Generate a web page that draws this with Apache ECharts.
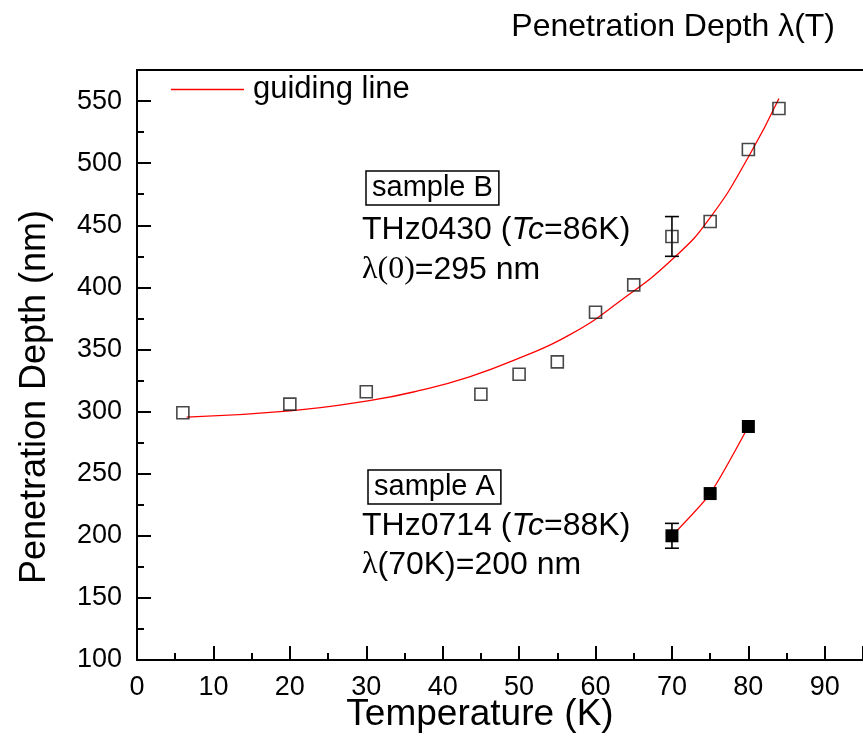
<!DOCTYPE html>
<html>
<head>
<meta charset="utf-8">
<script src="https://cdn.jsdelivr.net/npm/echarts@6/dist/echarts.min.js"></script>
<style>
  html, body { margin: 0; padding: 0; background: #fff; }
  #chart { width: 863px; height: 751px; }
</style>
</head>
<body>
<div id="chart"></div>
<script>
// Sample B (THz0430) measured penetration depth, open squares
const tempB = [6, 20, 30, 45, 50, 55, 60, 65, 70, 75, 80, 84];
const depthB = [299, 306, 316, 314, 330, 340, 380, 402, 441, 453, 511, 544];
// Sample A (THz0714) measured penetration depth, filled squares
const tempA = [70, 75, 80];
const depthA = [200, 234, 288];
// Error bars: [temperature, value, half-width]
const errB = [[70, 441, 16]];
const errA = [[70, 200, 10]];
// Guiding line through sample B
const guideT = [6.5, 20, 30.4, 37, 43.5, 50, 56.6, 63, 70.3, 75.1, 80.1, 84];
const guideB = [295.5, 300.5, 308.8, 317, 328, 343, 361.7, 388, 424, 457, 506, 552];
// Axis ranges and ticks
const xRange = [0, 95];
const xStep = 10;
const yRange = [100, 575];
const yStep = 50;

const FONT = '"Liberation Sans", Arial, Helvetica, sans-serif';
const SERIF = '"Liberation Serif", "Times New Roman", serif';

const chart = echarts.init(document.getElementById('chart'), null, { renderer: 'canvas' });

function pairs(xs, ys) { return xs.map((x, i) => [x, ys[i]]); }

function errorBars(name, data) {
  return {
    type: 'custom',
    name: name,
    data: data,
    z: 3,
    renderItem: function (params, api) {
      const x = api.value(0), v = api.value(1), e = api.value(2);
      const hi = api.coord([x, v + e]);
      const lo = api.coord([x, v - e]);
      const cap = 7;
      const st = { stroke: '#000', lineWidth: 1.6 };
      return {
        type: 'group',
        children: [
          { type: 'line', shape: { x1: hi[0], y1: hi[1], x2: lo[0], y2: lo[1] }, style: st },
          { type: 'line', shape: { x1: hi[0] - cap, y1: hi[1], x2: hi[0] + cap, y2: hi[1] }, style: st },
          { type: 'line', shape: { x1: lo[0] - cap, y1: lo[1], x2: lo[0] + cap, y2: lo[1] }, style: st }
        ]
      };
    }
  };
}

const annFont = 32;
const boxFont = 29;

chart.setOption({
  animation: false,
  backgroundColor: '#fff',
  grid: { left: 137, right: 0, top: 70, bottom: 91, containLabel: false },
  legend: {
    data: [{ name: 'guiding line', icon: 'rect' }],
    left: 166,
    top: 69,
    itemWidth: 73,
    itemHeight: 1.3,
    textStyle: { fontFamily: FONT, fontSize: 31, color: '#000', padding: [0, 0, 0, 4] }
  },
  xAxis: [{
    type: 'value',
    min: xRange[0],
    max: xRange[1],
    interval: xStep,
    axisLine: { lineStyle: { color: '#000', width: 2 } },
    axisTick: { inside: true, length: 14, lineStyle: { color: '#000', width: 2 } },
    minorTick: { show: true, splitNumber: 2, length: 7, lineStyle: { color: '#000', width: 2 } },
    splitLine: { show: false },
    axisLabel: { showMaxLabel: false, margin: 14, fontFamily: FONT, fontSize: 27, color: '#000' }
  }, {
    type: 'value',
    position: 'top',
    min: xRange[0],
    max: xRange[1],
    axisLine: { show: true, lineStyle: { color: '#000', width: 2 } },
    axisTick: { show: false },
    axisLabel: { show: false },
    splitLine: { show: false }
  }],
  yAxis: {
    type: 'value',
    min: yRange[0],
    max: yRange[1],
    interval: yStep,
    axisLine: { show: true, lineStyle: { color: '#000', width: 2 } },
    axisTick: { show: true, inside: true, length: 14, lineStyle: { color: '#000', width: 2 } },
    minorTick: { show: true, splitNumber: 2, length: 7, lineStyle: { color: '#000', width: 2 } },
    splitLine: { show: false },
    axisLabel: { showMaxLabel: false, margin: 15, fontFamily: FONT, fontSize: 27, color: '#000' }
  },
  series: [
    {
      name: 'guiding line',
      type: 'line',
      data: pairs(guideT, guideB),
      smooth: 0.5,
      symbol: 'none',
      lineStyle: { color: '#ff0000', width: 1.3 },
      itemStyle: { color: '#ff0000' },
      z: 2
    },
    {
      name: 'guide A',
      type: 'line',
      data: pairs(tempA, depthA),
      smooth: 0.2,
      symbol: 'none',
      lineStyle: { color: '#ff0000', width: 1.3 },
      z: 2
    },
    {
      name: 'sample B',
      type: 'scatter',
      data: pairs(tempB, depthB),
      symbol: 'rect',
      symbolSize: 12,
      itemStyle: { color: 'rgba(0,0,0,0)', borderColor: '#1a1a1a', borderWidth: 1.6 },
      z: 4
    },
    {
      name: 'sample A',
      type: 'scatter',
      data: pairs(tempA, depthA),
      symbol: 'rect',
      symbolSize: 13,
      itemStyle: { color: '#000', opacity: 1 },
      z: 4
    },
    errorBars('error B', errB),
    errorBars('error A', errA)
  ],
  graphic: [
    {
      type: 'text', style: {
        x: 835, y: 27, text: 'Penetration Depth λ(T)', textAlign: 'right', textVerticalAlign: 'middle',
        fontFamily: FONT, fontSize: 32, fill: '#000'
      }
    },
    {
      type: 'text', x: 35, y: 397, rotation: Math.PI / 2, style: {
        x: 0, y: 0, text: 'Penetration Depth (nm)', textAlign: 'center', textVerticalAlign: 'middle',
        fontFamily: FONT, fontSize: 36, fill: '#000'
      }
    },
    {
      type: 'text', style: {
        x: 480, y: 715, text: 'Temperature (K)', textAlign: 'center', textVerticalAlign: 'middle',
        fontFamily: FONT, fontSize: 37, fill: '#000'
      }
    },
    {
      type: 'text', style: {
        x: 366, y: 188, text: 'sample B', textAlign: 'left', textVerticalAlign: 'middle',
        fontFamily: FONT, fontSize: boxFont, fill: '#000',
        borderColor: '#000', borderWidth: 1.5, padding: [3, 6, 2, 6]
      }
    },
    {
      type: 'text', style: {
        x: 362, y: 230, text: 'THz0430 ({i|Tc}=86K)', textAlign: 'left', textVerticalAlign: 'middle',
        fontFamily: FONT, fontSize: annFont, fill: '#000',
        rich: { i: { fontFamily: FONT, fontStyle: 'italic', fontSize: annFont, fill: '#000' } }
      }
    },
    {
      type: 'text', style: {
        x: 362, y: 270, text: '{s|λ(0)}=295 nm', textAlign: 'left', textVerticalAlign: 'middle',
        fontFamily: FONT, fontSize: annFont, fill: '#000',
        rich: { s: { fontFamily: SERIF, fontSize: annFont, fill: '#000' } }
      }
    },
    {
      type: 'text', style: {
        x: 368, y: 487, text: 'sample A', textAlign: 'left', textVerticalAlign: 'middle',
        fontFamily: FONT, fontSize: boxFont, fill: '#000',
        borderColor: '#000', borderWidth: 1.5, padding: [3, 6, 2, 6]
      }
    },
    {
      type: 'text', style: {
        x: 362, y: 526, text: 'THz0714 ({i|Tc}=88K)', textAlign: 'left', textVerticalAlign: 'middle',
        fontFamily: FONT, fontSize: annFont, fill: '#000',
        rich: { i: { fontFamily: FONT, fontStyle: 'italic', fontSize: annFont, fill: '#000' } }
      }
    },
    {
      type: 'text', style: {
        x: 362, y: 565, text: '{s|λ}(70K)=200 nm', textAlign: 'left', textVerticalAlign: 'middle',
        fontFamily: FONT, fontSize: annFont, fill: '#000',
        rich: { s: { fontFamily: SERIF, fontSize: annFont, fill: '#000' } }
      }
    }
  ]
});
</script>
</body>
</html>
